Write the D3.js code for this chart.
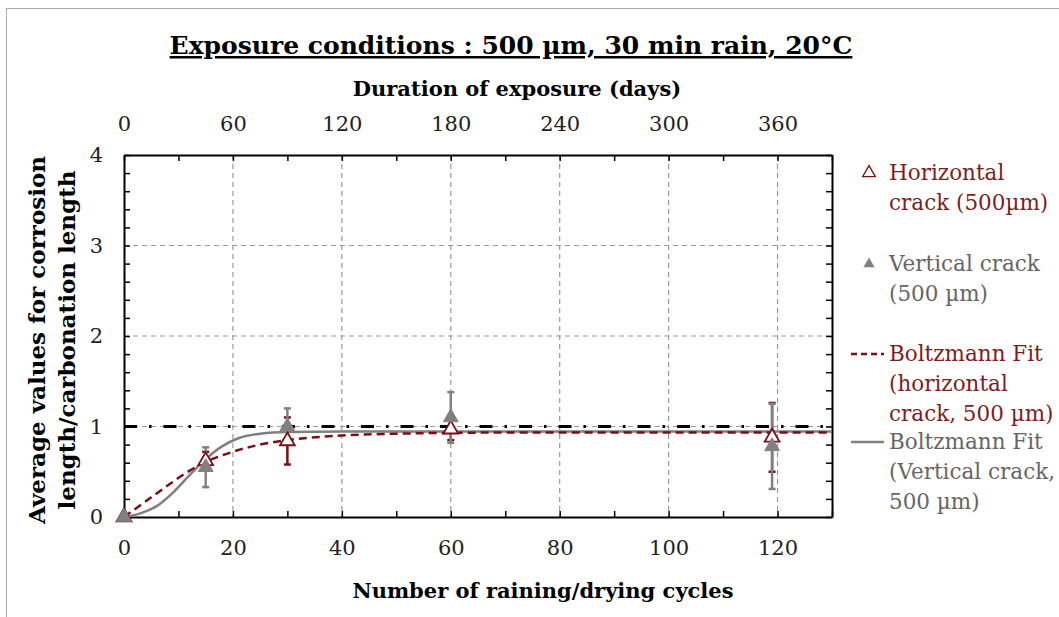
<!DOCTYPE html>
<html lang="en">
<head>
    <meta charset="utf-8" />
    <title>Exposure conditions</title>
    <script src="https://cdnjs.cloudflare.com/ajax/libs/d3/7.8.5/d3.min.js"></script>
    <style>
        body { margin: 0; background: white; }
        text { font-family: "DejaVu Serif", serif; }
        .axis path, .axis line { stroke: black; }
        .axis text { font-size: 21px; fill: #222; }
    </style>
</head>
<body>
<div id="chart"></div>
<script>
    // measured values (number of cycles)
    const cycles = [0, 15, 30, 60, 119];
    const horizMean = [0, 0.62, 0.84, 0.97, 0.88];
    const horizErr = [0, 0.10, 0.26, 0.12, 0.38];
    const vertMean = [0, 0.55, 1.00, 1.10, 0.78];
    const vertErr = [0, 0.22, 0.20, 0.28, 0.47];

    // Boltzmann fit curves
    const fitX = [0, 3, 6, 9, 12, 15, 18, 21, 25, 30, 40, 50, 60, 80, 100, 130];
    const fitHoriz = [0, 0.13, 0.26, 0.39, 0.51, 0.61, 0.68, 0.74, 0.80, 0.85, 0.90, 0.92, 0.93, 0.935, 0.935, 0.935];
    const fitVert = [0, 0.04, 0.12, 0.27, 0.46, 0.64, 0.78, 0.87, 0.92, 0.94, 0.945, 0.945, 0.945, 0.945, 0.945, 0.945];

    const xTicks = [0, 20, 40, 60, 80, 100, 120];
    const daysTicks = [0, 60, 120, 180, 240, 300, 360];
    const yTicks = [0, 1, 2, 3, 4];

    const red = "#7a0f17";
    const gray = "#808080";

    const width = 1059, height = 617;
    const pLeft = 124, pRight = 832, pTop = 155, pBottom = 517;

    const svg = d3.select("#chart").append("svg")
        .attr("width", width)
        .attr("height", height);

    // outer frame (only top/left visible)
    svg.append("rect")
        .attr("x", 6.5).attr("y", 8.5)
        .attr("width", 1200).attr("height", 800)
        .attr("fill", "none").attr("stroke", "#aaa");

    const x = d3.scaleLinear().domain([0, 130]).range([pLeft, pRight]);
    const xDays = d3.scaleLinear().domain([0, 390]).range([pLeft, pRight]);
    const y = d3.scaleLinear().domain([0, 4]).range([pBottom, pTop]);

    // grid
    svg.append("g").selectAll("line")
        .data(xTicks.slice(1))
        .join("line")
        .attr("x1", d => x(d)).attr("x2", d => x(d))
        .attr("y1", pTop).attr("y2", pBottom)
        .attr("stroke", "#999").attr("stroke-width", 1.2)
        .attr("stroke-dasharray", "5,4");
    svg.append("g").selectAll("line")
        .data(yTicks.slice(1, 4))
        .join("line")
        .attr("x1", pLeft).attr("x2", pRight)
        .attr("y1", d => y(d)).attr("y2", d => y(d))
        .attr("stroke", "#999").attr("stroke-width", 1.2)
        .attr("stroke-dasharray", "5,4");

    // axes with inward ticks
    const minorX = d3.range(0, 131, 10);
    const gBottom = svg.append("g").attr("class", "axis")
        .attr("transform", `translate(0,${pBottom})`)
        .call(d3.axisBottom(x).tickValues(minorX)
            .tickFormat(d => xTicks.includes(d) ? d : "")
            .tickSizeInner(-6).tickSizeOuter(0).tickPadding(23));
    const gTop = svg.append("g").attr("class", "axis")
        .attr("transform", `translate(0,${pTop})`)
        .call(d3.axisTop(xDays).tickValues(d3.range(0, 391, 30))
            .tickFormat(d => daysTicks.includes(d) ? d : "")
            .tickSizeInner(-6).tickSizeOuter(0).tickPadding(24));
    const minorY = d3.range(0, 21).map(i => i * 0.2);
    const gLeft = svg.append("g").attr("class", "axis")
        .attr("transform", `translate(${pLeft},0)`)
        .call(d3.axisLeft(y).tickValues(minorY)
            .tickFormat(d => Math.abs(d - Math.round(d)) < 1e-6 ? Math.round(d) : "")
            .tickSizeInner(-6).tickSizeOuter(0).tickPadding(21));
    const gRight = svg.append("g").attr("class", "axis")
        .attr("transform", `translate(${pRight},0)`)
        .call(d3.axisRight(y).tickValues(minorY).tickFormat("")
            .tickSizeInner(-6).tickSizeOuter(0));
    [gBottom, gTop, gLeft, gRight].forEach(g => {
        g.select(".domain").attr("stroke-width", 2);
        g.selectAll(".tick line").attr("stroke-width", 1.5);
    });

    // reference line y = 1
    svg.append("line")
        .attr("x1", pLeft).attr("x2", pRight)
        .attr("y1", y(1)).attr("y2", y(1))
        .attr("stroke", "black").attr("stroke-width", 3)
        .attr("stroke-dasharray", "13,12,2.5,12");

    // fit curves
    const line = d3.line().curve(d3.curveMonotoneX);
    svg.append("path")
        .attr("d", line(fitX.map((d, i) => [x(d), y(fitVert[i])])))
        .attr("fill", "none").attr("stroke", gray).attr("stroke-width", 2.5);
    svg.append("path")
        .attr("d", line(fitX.map((d, i) => [x(d), y(fitHoriz[i])])))
        .attr("fill", "none").attr("stroke", red).attr("stroke-width", 2.5)
        .attr("stroke-dasharray", "8,5");

    const tri = d3.symbol().type(d3.symbolTriangle).size(95);

    function errorBars(means, errs, color) {
        const g = svg.append("g");
        cycles.forEach((c, i) => {
            if (errs[i] === 0) return;
            const cx = x(c);
            g.append("line")
                .attr("x1", cx).attr("x2", cx)
                .attr("y1", y(means[i] - errs[i])).attr("y2", y(means[i] + errs[i]))
                .attr("stroke", color).attr("stroke-width", 2.5);
            [means[i] - errs[i], means[i] + errs[i]].forEach(v => {
                g.append("line")
                    .attr("x1", cx - 3.5).attr("x2", cx + 3.5)
                    .attr("y1", y(v)).attr("y2", y(v))
                    .attr("stroke", color).attr("stroke-width", 2.5);
            });
        });
    }

    errorBars(horizMean, horizErr, red);
    errorBars(vertMean, vertErr, gray);

    // horizontal crack: open triangles
    svg.append("g").selectAll("path")
        .data(cycles)
        .join("path")
        .attr("d", tri)
        .attr("transform", (d, i) => `translate(${x(d)},${y(horizMean[i])})`)
        .attr("fill", "white").attr("stroke", red).attr("stroke-width", 1.8);

    // vertical crack: filled triangles
    svg.append("g").selectAll("path")
        .data(cycles)
        .join("path")
        .attr("d", tri)
        .attr("transform", (d, i) => `translate(${x(d)},${y(vertMean[i])})`)
        .attr("fill", gray).attr("stroke", gray).attr("stroke-width", 1);

    // titles
    svg.append("text")
        .attr("x", 511).attr("y", 54)
        .attr("text-anchor", "middle")
        .style("font-size", "25px").style("font-weight", "bold")
        .style("text-decoration", "underline")
        .text("Exposure conditions : 500 µm, 30 min rain, 20°C");
    svg.append("text")
        .attr("x", 517).attr("y", 96)
        .attr("text-anchor", "middle")
        .style("font-size", "21px").style("font-weight", "bold")
        .text("Duration of exposure (days)");
    svg.append("text")
        .attr("x", 543).attr("y", 598)
        .attr("text-anchor", "middle")
        .style("font-size", "21px").style("font-weight", "bold")
        .text("Number of raining/drying cycles");
    const yl = svg.append("text")
        .attr("transform", "translate(45,340) rotate(-90)")
        .attr("text-anchor", "middle")
        .style("font-size", "23px").style("font-weight", "bold");
    yl.append("tspan").attr("x", 0).attr("dy", 0).text("Average values for corrosion");
    yl.append("tspan").attr("x", 0).attr("dy", 30).text("length/carbonation length");

    // legend
    const legend = [
        { lines: ["Horizontal", "crack (500µm)"], y: 180, color: "#7f1d22", key: "open" },
        { lines: ["Vertical crack", "(500 µm)"], y: 271, color: "#666", key: "filled" },
        { lines: ["Boltzmann Fit", "(horizontal", "crack, 500 µm)"], y: 361, color: "#7f1d22", key: "dash" },
        { lines: ["Boltzmann Fit", "(Vertical crack,", "500 µm)"], y: 449, color: "#666", key: "solid" }
    ];
    const lg = svg.append("g");
    legend.forEach(item => {
        const t = lg.append("text")
            .attr("x", 889).attr("y", item.y)
            .attr("fill", item.color)
            .style("font-size", "21.5px");
        item.lines.forEach((s, i) => {
            t.append("tspan").attr("x", 889).attr("dy", i === 0 ? 0 : 30).text(s);
        });
        const my = item.y - 7;
        if (item.key === "open") {
            lg.append("path").attr("d", d3.symbol().type(d3.symbolTriangle).size(70))
                .attr("transform", `translate(869,${my})`)
                .attr("fill", "white").attr("stroke", red).attr("stroke-width", 1.3);
        } else if (item.key === "filled") {
            lg.append("path").attr("d", d3.symbol().type(d3.symbolTriangle).size(55))
                .attr("transform", `translate(869,${my})`)
                .attr("fill", gray);
        } else {
            lg.append("line")
                .attr("x1", 851).attr("x2", 884)
                .attr("y1", my).attr("y2", my)
                .attr("stroke", item.key === "dash" ? red : gray)
                .attr("stroke-width", 2.5)
                .attr("stroke-dasharray", item.key === "dash" ? "6,4" : null);
        }
    });
</script>
</body>
</html>
